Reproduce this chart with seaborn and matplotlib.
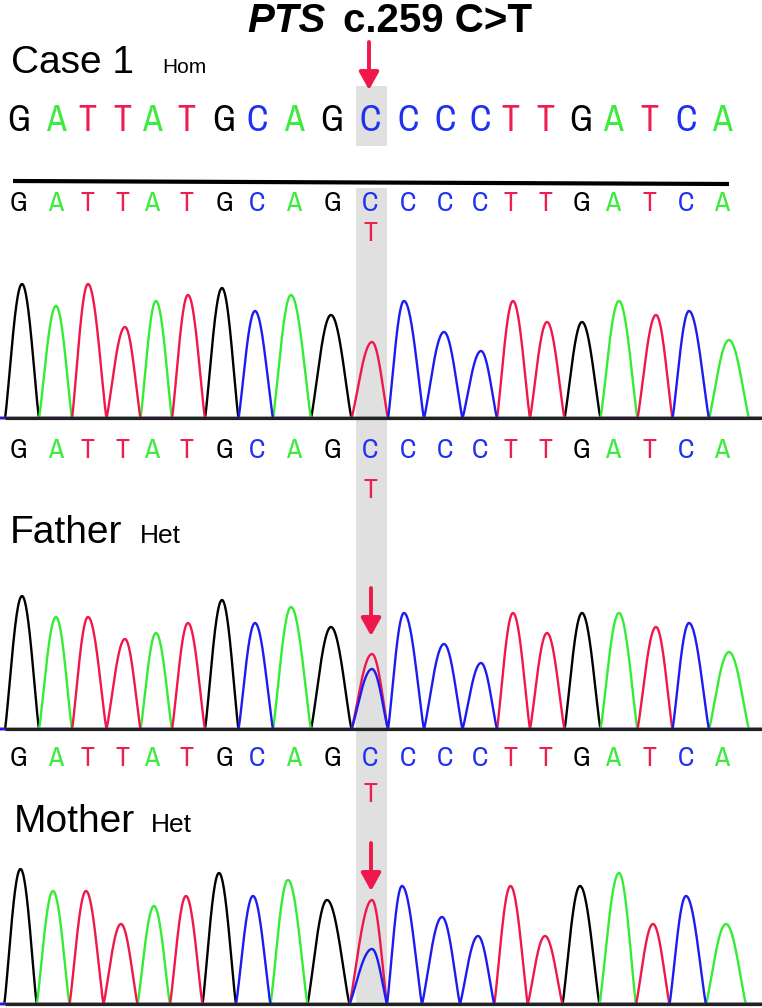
import numpy as np
import pandas as pd
import matplotlib
matplotlib.use("Agg")
import matplotlib.pyplot as plt
from matplotlib import font_manager as fm
from matplotlib.patches import Rectangle
import seaborn as sns

# ---------------- data ----------------
ref_seq = list("GATTATGCAGCCCCTTGATCA")
variant_index = 10
alt_base = "T"
call_pos = [18.5, 56, 87, 122, 152, 186, 224, 257, 294, 332, 370,
            408, 445, 480, 510, 545, 581, 613, 649, 686, 722]
case1_peak_pos = [22, 56, 88, 125, 156, 188, 222, 255, 291, 331, 372,
                  404, 444, 481, 513, 547, 582, 619, 656, 689, 729]
mother_peak_pos = [20.5, 53, 86, 121, 154, 186, 219, 253, 288, 327, 372,
                   402, 442, 478, 510.5, 545, 580, 619, 653, 686, 726]
case1_heights = [134, 112, 134, 91, 117, 123, 130, 107, 123, 103, 76,
                 117, 86, 67, 117, 96, 96, 117, 103, 107, 78]
father_heights = [133, 112, 112, 90, 96, 106, 129, 106, 122, 102, 75,
                  116, 85, 66, 116, 96, 116, 116, 102, 106, 77]
mother_heights = [135, 113, 113, 80, 98, 108, 131, 108, 124, 104, 104,
                  118, 87, 68, 118, 68, 118, 131, 80, 108, 80]
father_second = ("C", 60)
mother_second = ("C", 55)

trace_colors = {"G": "#000000", "A": "#35EC35", "T": "#F0174B", "C": "#1C1CF2"}
letter_colors = {"G": "#000000", "A": "#3FEA3F", "T": "#EE1E50", "C": "#2030F0"}
band_color = "#E0E0E0"
arrow_color = "#F0174B"

# ---------------- fonts ----------------
narrow = None
for f in fm.fontManager.ttflist:
    if ("Narrow" in f.name or "Condensed" in f.name) and f.weight in (400, "normal", "regular"):
        narrow = f.name
        break
narrow_stretch = "normal"
if narrow is None:
    for f in fm.fontManager.ttflist:
        if f.stretch == "condensed" and f.name == "DejaVu Sans" and f.weight in (400, "normal"):
            narrow = "DejaVu Sans"
            narrow_stretch = "condensed"
            break
if narrow is None:
    narrow = "Liberation Sans"
sans = "Liberation Sans"

sns.set_theme(style="white")
plt.rcParams["font.family"] = [sans, "DejaVu Sans"]
plt.rcParams["text.color"] = "black"

W, H = 762, 1008
fig = plt.figure(figsize=(W / 100, H / 100), dpi=100)
fig.patch.set_facecolor("white")

bg = fig.add_axes([0, 0, 1, 1])
bg.set_xlim(0, W)
bg.set_ylim(H, 0)
bg.set_axis_off()

# grey highlight
bg.add_patch(Rectangle((356, 86), 31, 60, color=band_color, lw=0, zorder=0))
bg.add_patch(Rectangle((356, 188), 31, 816, color=band_color, lw=0, zorder=0))

# title
bg.text(326, 32, "PTS", fontsize=29, fontweight="bold", fontstyle="italic",
        ha="right", va="baseline", family=sans)
bg.text(343, 32, "c.259 C>T", fontsize=29, fontweight="bold",
        ha="left", va="baseline", family=sans)

# labels
bg.text(11, 73, "Case 1", fontsize=28, ha="left", va="baseline")
bg.text(162, 73, "Hom", fontsize=15, ha="left", va="baseline")
bg.text(10, 543, "Father", fontsize=28, ha="left", va="baseline")
bg.text(140, 543, "Het", fontsize=19, ha="left", va="baseline")
bg.text(14, 832, "Mother", fontsize=28, ha="left", va="baseline")
bg.text(151, 832, "Het", fontsize=19, ha="left", va="baseline")

# black separator line
bg.plot([13, 729], [181, 184], color="black", lw=3, solid_capstyle="butt")


def letter_row(y_base, size, alt_y=None):
    kw = dict(fontsize=size, ha="center", va="baseline",
              family=[narrow, "DejaVu Sans"], fontstretch=narrow_stretch)
    for b, x in zip(ref_seq, call_pos):
        bg.text(x, y_base, b, color=letter_colors[b], **kw)
    if alt_y is not None:
        bg.text(call_pos[variant_index], alt_y, alt_base,
                color=letter_colors[alt_base], **kw)


letter_row(131, 26)
letter_row(211, 20, 241)
letter_row(458, 20, 498)
letter_row(766, 20, 802)


def arrow(x, y0, y1):
    bg.annotate("", xy=(x, y1), xytext=(x, y0),
                arrowprops=dict(arrowstyle="-|>,head_length=0.9,head_width=0.5",
                                mutation_scale=12, lw=2.8, color=arrow_color,
                                shrinkA=0, shrinkB=0))


arrow(369, 42, 90)
arrow(371, 588, 636)
arrow(371, 843, 891)

# ---------------- traces ----------------
xs = np.arange(0, W, 0.25)


def peak_shape(p, lo, hi, h):
    y = np.zeros_like(xs)
    left = (xs >= lo) & (xs <= p)
    right = (xs > p) & (xs <= hi)
    y[left] = h * np.cos(np.pi / 2 * (p - xs[left]) / (p - lo)) ** 1.2
    y[right] = h * np.cos(np.pi / 2 * (xs[right] - p) / (hi - p)) ** 1.2
    return y


def trace(baseline_px, positions, heights, second=None):
    bases = list(ref_seq)
    bases[variant_index] = alt_base
    n = len(positions)
    bounds = []
    for i, p in enumerate(positions):
        lo = (positions[i - 1] + p) / 2 if i > 0 else p - (positions[1] - positions[0]) / 2
        hi = (positions[i + 1] + p) / 2 if i < n - 1 else p + (positions[-1] - positions[-2]) / 2
        bounds.append((lo, hi))
    peaks = [(positions[i], bases[i], heights[i], bounds[i]) for i in range(n)]
    if second is not None:
        peaks.append((positions[variant_index], second[0], second[1], bounds[variant_index]))
    rows = []
    for ch in ["G", "A", "T", "C"]:
        y = np.zeros_like(xs)
        for p, b, h, (lo, hi) in peaks:
            if b == ch:
                y += peak_shape(p, lo, hi, h)
        rows.append(pd.DataFrame({"x": xs, "y": y, "base": ch}))
    df = pd.concat(rows, ignore_index=True)
    pad = 10
    top = 150
    ax = fig.add_axes([0, 1 - (baseline_px + pad) / H, 1, (top + pad) / H])
    ax.patch.set_alpha(0)
    sns.lineplot(data=df, x="x", y="y", hue="base", palette=trace_colors,
                 estimator=None, sort=False, legend=False, lw=1.7, ax=ax)
    ax.set_xlim(0, W)
    ax.set_ylim(-pad, top)
    ax.hlines(0, 5, W, color="#222222", lw=2.3, zorder=5)
    ax.set_axis_off()
    return ax


trace(418, case1_peak_pos, case1_heights)
trace(729, case1_peak_pos, father_heights, father_second)
trace(1004, mother_peak_pos, mother_heights, mother_second)

fig.savefig("out.png", dpi=100, facecolor="white")
